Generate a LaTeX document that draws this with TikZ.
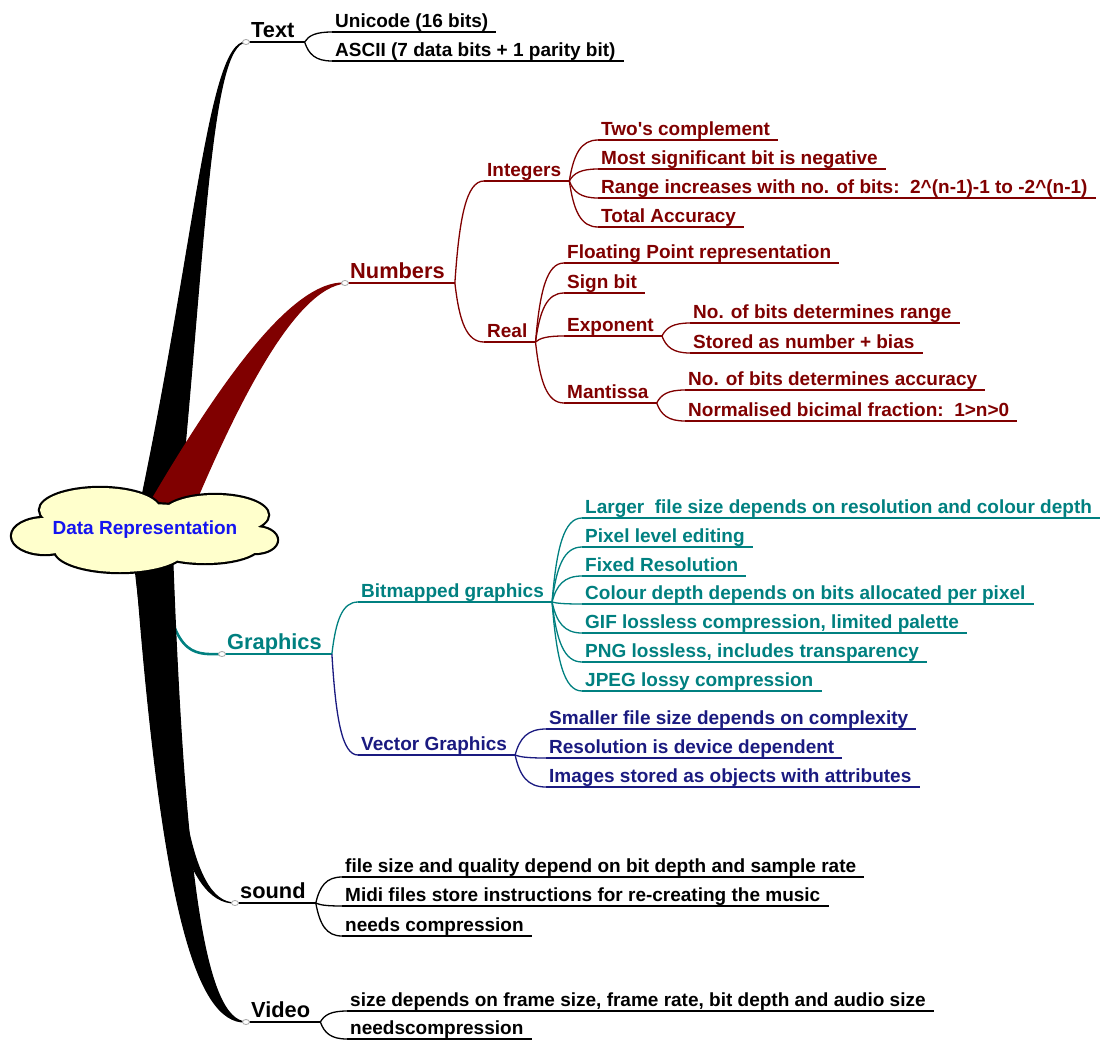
\documentclass[tikz,border=0pt]{standalone}
\usepackage{fontspec}
\setmainfont{Liberation Sans}
\usetikzlibrary{calc}

\definecolor{cBlack}{RGB}{0,0,0}
\definecolor{cRed}{RGB}{128,0,0}
\definecolor{cTeal}{RGB}{0,128,128}
\definecolor{cNavy}{RGB}{26,26,128}
\definecolor{cloudfill}{RGB}{255,255,204}
\definecolor{cloudtext}{RGB}{20,20,240}

% a labelled topic sitting on its own underline
\newcommand\leaf[6][lbl]{%
  \node[#1, text=#3] (#2) at (#4,#5) {#6};
  \draw[uline, draw=#3] (#2.south west) -- ([xshift=5pt]#2.south east);}
% curved link from the end of a parent's underline to a child's underline
\newcommand\conn[3]{%
  \draw[link, draw=#3] let \p1=([xshift=5pt]#1.south east), \p2=(#2.south west) in
    (\p1) .. controls ({\x1+0.15*(\x2-\x1)},{\y1+0.65*(\y2-\y1)}) and ({\x1+0.4*(\x2-\x1)},\y2) .. (\p2);}
% puffs of the central cloud: centre x, centre y, x radius, y radius
\newcommand\puffs{%
  (100,510) ellipse [x radius=60, y radius=22]
  (215,515) ellipse [x radius=53, y radius=20]
  (255,540) ellipse [x radius=22, y radius=13]
  (205,545) ellipse [x radius=55, y radius=18]
  (120,550) ellipse [x radius=65, y radius=22]
  (45,536)  ellipse [x radius=33, y radius=18]
  (143,530) ellipse [x radius=100, y radius=26]}

\begin{document}
\begin{tikzpicture}[x=1pt,y=-1pt,
  lbl/.style={anchor=south west, inner xsep=3pt, inner ysep=0pt,
    text height=14pt, text depth=4pt, font=\fontsize{19}{22}\selectfont\bfseries},
  main/.style={anchor=south west, inner xsep=5pt, inner ysep=0pt,
    text height=16pt, text depth=4pt, font=\fontsize{21.8}{25}\selectfont\bfseries},
  uline/.style={line width=1.3pt},
  link/.style={line width=1.3pt},
  knobst/.style={draw=gray!70, fill=white, line width=0.8pt},
  wedge/.style={line width=1.2pt, line join=round}]
\useasboundingbox (0,0) rectangle (1106,1042);

% topic anchor points
\coordinate (kText)  at (246,42);
\coordinate (kNum)   at (345,283);
\coordinate (kGraph) at (222,654);
\coordinate (kSound) at (235,903);
\coordinate (kVideo) at (246,1022);

% tapered main branches
\draw[cTeal, line width=2.6pt] (160,560) .. controls (172,655) and (190,655) .. (kGraph);
\filldraw[wedge, black] (137,520) .. controls (195,250) and (208,42) .. (kText)
   .. controls (210,44) and (205,250) .. (178,520) -- cycle;
\filldraw[wedge, black] (132,540) .. controls (160,800) and (185,903) .. (kSound)
   .. controls (188,903) and (170,780) .. (170,540) -- cycle;
\filldraw[wedge, black] (134,540) .. controls (160,900) and (195,1024) .. (kVideo)
   .. controls (205,1020) and (184,880) .. (172,540) -- cycle;
\filldraw[wedge, cRed] (140,520) .. controls (215,390) and (290,281) .. (kNum)
   .. controls (295,288) and (238,400) .. (188,520) -- cycle;

% central idea: a cloud made of overlapping puffs
\draw[black, line width=4.4pt] \puffs;
\fill[cloudfill] \puffs;
\node[inner sep=0pt, text=cloudtext, font=\fontsize{19}{22}\selectfont\bfseries]
  (root) at (145,530) {Data Representation};

% Text
\leaf[main]{tText}{cBlack}{246}{42}{Text}
\leaf{tUni}{cBlack}{332}{32}{Unicode (16 bits)}
\leaf{tAsc}{cBlack}{332}{61}{ASCII (7 data bits + 1 parity bit)}
\conn{tText}{tUni}{cBlack}
\conn{tText}{tAsc}{cBlack}

% Numbers
\leaf[main]{nNum}{cRed}{345}{283}{Numbers}
\leaf{nInt}{cRed}{484}{181}{Integers}
\leaf{nReal}{cRed}{484}{342}{Real}
\conn{nNum}{nInt}{cRed}
\conn{nNum}{nReal}{cRed}
\leaf{nI1}{cRed}{598}{140}{Two\textquotesingle s complement}
\leaf{nI2}{cRed}{598}{169}{Most significant bit is negative}
\leaf{nI3}{cRed}{598}{198}{Range increases with no. of bits:\ \ 2\textasciicircum(n-1)-1 to -2\textasciicircum(n-1)}
\leaf{nI4}{cRed}{598}{227}{Total Accuracy}
\foreach \c in {nI1,nI2,nI3,nI4} {\conn{nInt}{\c}{cRed}}
\leaf{nR1}{cRed}{564}{263}{Floating Point representation}
\leaf{nR2}{cRed}{564}{293}{Sign bit}
\leaf{nR3}{cRed}{564}{336}{Exponent}
\leaf{nR4}{cRed}{564}{403}{Mantissa}
\foreach \c in {nR1,nR2,nR3,nR4} {\conn{nReal}{\c}{cRed}}
\leaf{nE1}{cRed}{690}{323}{No. of bits determines range}
\leaf{nE2}{cRed}{690}{353}{Stored as number + bias}
\conn{nR3}{nE1}{cRed}
\conn{nR3}{nE2}{cRed}
\leaf{nM1}{cRed}{685}{390}{No. of bits determines accuracy}
\leaf{nM2}{cRed}{685}{421}{Normalised bicimal fraction:\ \ 1>n>0}
\conn{nR4}{nM1}{cRed}
\conn{nR4}{nM2}{cRed}

% Graphics
\leaf[main]{gGra}{cTeal}{222}{654}{Graphics}
\leaf{gBit}{cTeal}{358}{602}{Bitmapped graphics}
\leaf{gVec}{cNavy}{358}{755}{Vector Graphics}
\conn{gGra}{gBit}{cTeal}
\conn{gGra}{gVec}{cNavy}
\leaf{gB1}{cTeal}{582}{518}{Larger\ \ file size depends on resolution and colour depth}
\leaf{gB2}{cTeal}{582}{547}{Pixel level editing}
\leaf{gB3}{cTeal}{582}{576}{Fixed Resolution}
\leaf{gB4}{cTeal}{582}{604}{Colour depth depends on bits allocated per pixel}
\leaf{gB5}{cTeal}{582}{633}{GIF lossless compression, limited palette}
\leaf{gB6}{cTeal}{582}{662}{PNG lossless, includes transparency}
\leaf{gB7}{cTeal}{582}{691}{JPEG lossy compression}
\foreach \c in {gB1,gB2,gB3,gB4,gB5,gB6,gB7} {\conn{gBit}{\c}{cTeal}}
\leaf{gV1}{cNavy}{546}{729}{Smaller file size depends on complexity}
\leaf{gV2}{cNavy}{546}{758}{Resolution is device dependent}
\leaf{gV3}{cNavy}{546}{787}{Images stored as objects with attributes}
\foreach \c in {gV1,gV2,gV3} {\conn{gVec}{\c}{cNavy}}

% sound
\leaf[main]{sSnd}{cBlack}{235}{903}{sound}
\leaf{sS1}{cBlack}{342}{877}{file size and quality depend on bit depth and sample rate}
\leaf{sS2}{cBlack}{342}{906}{Midi files store instructions for re-creating the music}
\leaf{sS3}{cBlack}{342}{936}{needs compression}
\foreach \c in {sS1,sS2,sS3} {\conn{sSnd}{\c}{cBlack}}

% Video
\leaf[main]{vVid}{cBlack}{246}{1022}{Video}
\leaf{vV1}{cBlack}{347}{1011}{size depends on frame size, frame rate, bit depth and audio size}
\leaf{vV2}{cBlack}{347}{1039}{needscompression}
\conn{vVid}{vV1}{cBlack}
\conn{vVid}{vV2}{cBlack}

% small knobs where the main branches meet their topics
\foreach \k in {kText,kNum,kGraph,kSound,kVideo}
  {\draw[knobst] (\k) ellipse [x radius=3.5, y radius=2.5];}
\end{tikzpicture}
\end{document}
